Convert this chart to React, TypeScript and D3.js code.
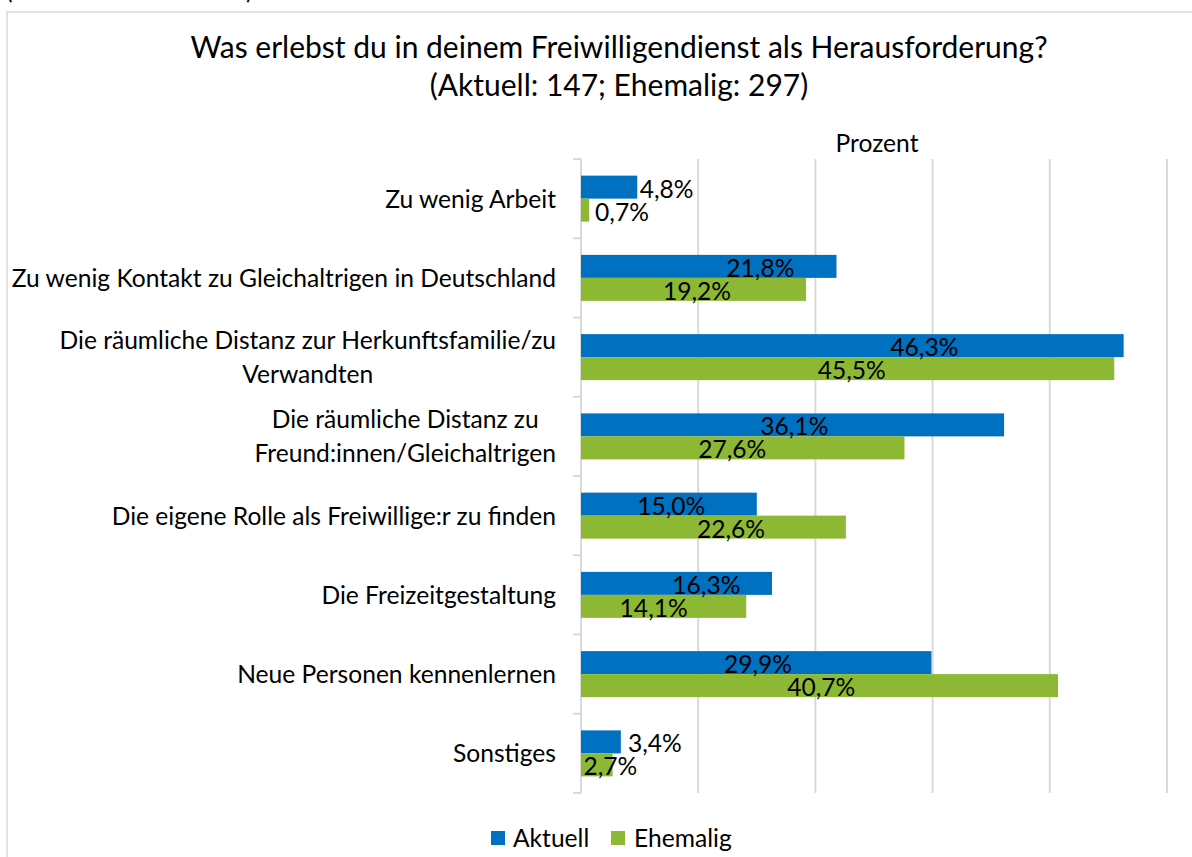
import React, { useEffect, useRef } from "react";
import * as d3 from "d3";

const categories = [
  "Zu wenig Arbeit",
  "Zu wenig Kontakt zu Gleichaltrigen in Deutschland",
  "Die räumliche Distanz zur Herkunftsfamilie/zu\nVerwandten",
  "Die räumliche Distanz zu\nFreund:innen/Gleichaltrigen",
  "Die eigene Rolle als Freiwillige:r zu finden",
  "Die Freizeitgestaltung",
  "Neue Personen kennenlernen",
  "Sonstiges",
];
const aktuell = [4.8, 21.8, 46.3, 36.1, 15.0, 16.3, 29.9, 3.4];
const ehemalig = [0.7, 19.2, 45.5, 27.6, 22.6, 14.1, 40.7, 2.7];
// where the (manually moved) data labels sit, in percent units
const aktuellLabelAt = [7.3, 15.3, 29.3, 18.2, 7.7, 10.7, 15.1, 6.3];
const ehemaligLabelAt = [3.5, 9.9, 23.1, 12.9, 12.8, 6.2, 20.5, 2.5];
const xTicks = [0, 10, 20, 30, 40, 50];
const seriesNames = ["Aktuell", "Ehemalig"];
const titleLines = [
  "Was erlebst du in deinem Freiwilligendienst als Herausforderung?",
  "(Aktuell: 147; Ehemalig: 297)",
];
const axisTitle = "Prozent";

const COLORS = ["#0070C0", "#8DB833"];
const FONT = "Lato, 'Open Sans', sans-serif";
const FS = 24.6;
const W = 1192;
const H = 857;

export default function App() {
  const ref = useRef<SVGSVGElement>(null);

  useEffect(() => {
    const svg = d3.select(ref.current);
    svg.selectAll("*").remove();

    const x = d3.scaleLinear().domain([0, 50]).range([581, 1167]);
    const y = d3.scaleBand<string>().domain(categories).range([159, 793]).padding(0);
    const bh = y.bandwidth() * 0.29;

    // frame
    svg.append("rect").attr("x", 7).attr("y", 12).attr("width", 1400).attr("height", 1200)
      .attr("fill", "white").attr("stroke", "#d9d9d9").attr("stroke-width", 1.5);

    // cut-off text above the frame
    svg.append("text").attr("x", 6).attr("y", -1).attr("font-family", FONT).attr("font-size", FS)
      .attr("fill", "#000").text("(");
    svg.append("text").attr("x", 246).attr("y", -1).attr("font-family", FONT).attr("font-size", FS)
      .attr("fill", "#000").text(")");

    // title
    svg.append("g").selectAll("text").data(titleLines).join("text")
      .attr("x", 619).attr("y", (d, i) => 58 + i * 38)
      .attr("text-anchor", "middle").attr("font-family", FONT).attr("font-size", 30)
      .attr("fill", "#000").text((d) => d);

    svg.append("text").attr("x", (x(0) + x(50)) / 2 + 3).attr("y", 152)
      .attr("text-anchor", "middle").attr("font-family", FONT).attr("font-size", FS)
      .attr("fill", "#000").text(axisTitle);

    // gridlines
    svg.append("g").selectAll("line").data(xTicks.slice(1)).join("line")
      .attr("x1", (d) => x(d)).attr("x2", (d) => x(d))
      .attr("y1", 159).attr("y2", 793)
      .attr("stroke", "#d9d9d9").attr("stroke-width", 2);

    // category axis
    svg.append("line").attr("x1", x(0)).attr("x2", x(0)).attr("y1", 159).attr("y2", 793)
      .attr("stroke", "#d9d9d9").attr("stroke-width", 2);
    const bounds = categories.map((c) => y(c) as number).concat([793]);
    svg.append("g").selectAll("line").data(bounds).join("line")
      .attr("x1", x(0) - 8).attr("x2", x(0)).attr("y1", (d) => d).attr("y2", (d) => d)
      .attr("stroke", "#d9d9d9").attr("stroke-width", 2);

    // bars
    const series = [aktuell, ehemalig];
    const labelAt = [aktuellLabelAt, ehemaligLabelAt];
    series.forEach((vals, s) => {
      svg.append("g").selectAll("rect").data(vals).join("rect")
        .attr("x", x(0))
        .attr("y", (d, i) => (y(categories[i]) as number) + y.bandwidth() / 2 - bh + s * bh)
        .attr("width", (d) => x(d) - x(0))
        .attr("height", bh)
        .attr("fill", COLORS[s]);
    });
    series.forEach((vals, s) => {
      svg.append("g").selectAll("text").data(vals).join("text")
        .attr("x", (d, i) => x(labelAt[s][i]))
        .attr("y", (d, i) => (y(categories[i]) as number) + y.bandwidth() / 2 - bh + s * bh + bh - 1)
        .attr("text-anchor", "middle").attr("font-family", FONT).attr("font-size", FS)
        .attr("fill", "#000")
        .text((d) => d.toFixed(1).replace(".", ",") + "%");
    });

    // category labels
    categories.forEach((c) => {
      const lines = c.split("\n");
      const cy = (y(c) as number) + y.bandwidth() / 2;
      const g = svg.append("g");
      const texts = g.selectAll("text").data(lines).join("text")
        .attr("y", (d, i) => cy + (i - (lines.length - 1) / 2) * 34 + 9)
        .attr("font-family", FONT).attr("font-size", FS).attr("fill", "#000")
        .text((d) => d);
      let maxW = 0;
      texts.each(function () {
        maxW = Math.max(maxW, (this as SVGTextElement).getComputedTextLength());
      });
      texts.attr("text-anchor", "middle").attr("x", 556 - maxW / 2);
    });

    // legend
    const legendItems = [
      { name: seriesNames[0], sx: 491, tx: 513 },
      { name: seriesNames[1], sx: 611, tx: 634 },
    ];
    legendItems.forEach((it, i) => {
      svg.append("rect").attr("x", it.sx).attr("y", 831).attr("width", 14).attr("height", 14)
        .attr("fill", COLORS[i]);
      svg.append("text").attr("x", it.tx).attr("y", 847).attr("font-family", FONT)
        .attr("font-size", FS).attr("fill", "#000").text(it.name);
    });
  }, []);

  return (
    <svg
      ref={ref}
      width={W}
      height={H}
      style={{ position: "absolute", left: 0, top: 0, background: "#fff" }}
    />
  );
}
